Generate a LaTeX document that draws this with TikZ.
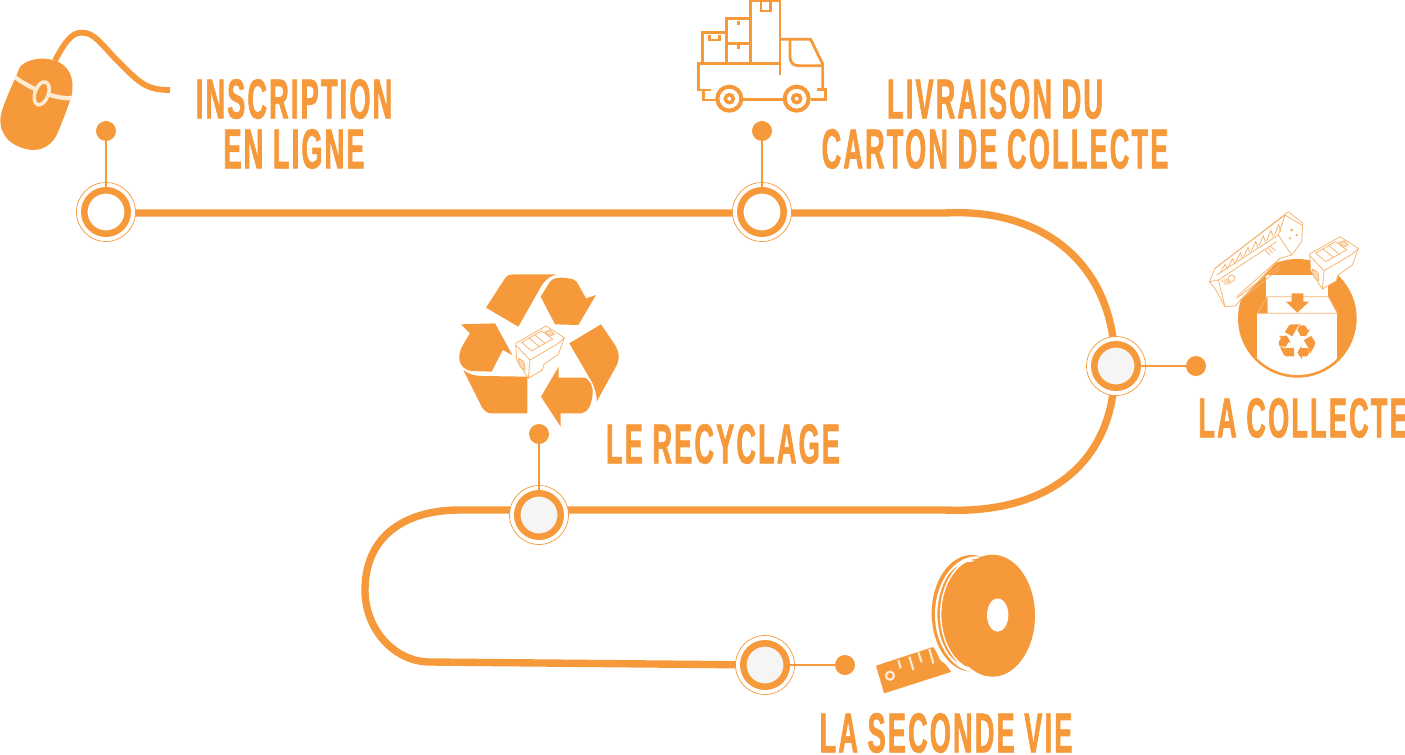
\documentclass[tikz,border=0pt]{standalone}
\usepackage{fontspec}
\setmainfont[FakeStretch=0.48,FakeBold=1.2,LetterSpace=4]{Liberation Sans Bold}
\usepackage{tikz}
\usetikzlibrary{arrows,%
                backgrounds}
\usepackage{tkz-berge}
\definecolor{tubeorange}{HTML}{F6993A}
\definecolor{palecream}{HTML}{FDEBD2}
\definecolor{paleorange}{HTML}{F8B572}
\definecolor{palegray}{HTML}{F5F5F5}
\tikzset{
	steptext/.style={text=tubeorange,align=center,inner sep=0pt,font=\fontsize{32}{28.4}\selectfont},
	tube/.style={draw=tubeorange,line width=4.2pt},
	thinline/.style={draw=tubeorange,line width=1.5pt},
	paleline/.style={draw=paleorange,line width=0.45pt},
	recyclemark/.pic={
		\fill[tubeorange] (108,128) -- (165,40) .. controls (172,30) and (180,28) .. (190,28) -- (320,28) .. controls (295,35) and (280,50) .. (270,70) -- (205,185) -- cycle;
		\fill[tubeorange] (272,95) -- (300,50) .. controls (310,38) and (325,36) .. (355,40) .. controls (370,42) and (375,45) .. (380,50) -- (408,100) -- (438,90) -- (385,180) -- (315,178) -- cycle;
		\fill[tubeorange] (358,235) -- (453,178) -- (495,240) .. controls (510,265) and (510,285) .. (495,310) -- (440,410) .. controls (440,385) and (435,370) .. (425,350) -- cycle;
		\fill[tubeorange] (326,305) -- (326,338) -- (405,338) .. controls (420,345) and (430,365) .. (428,385) .. controls (425,420) and (415,440) .. (395,445) -- (332,445) -- (332,485) -- (273,395) -- cycle;
		\fill[tubeorange] (40,315) .. controls (55,328) and (75,333) .. (100,333) -- (232,335) -- (232,445) -- (125,445) .. controls (110,445) and (100,435) .. (95,425) -- cycle;
		\fill[tubeorange] (33,178) -- (135,175) -- (187,270) -- (158,255) -- (125,320) -- (65,318) .. controls (40,315) and (25,295) .. (28,270) .. controls (30,250) and (45,230) .. (60,205) -- cycle;
	},
	cartridgebox/.pic={
		\draw[paleline,fill=white] (197,235) -- (288,183) -- (343,218) -- (325,268) -- (282,298) -- (277,315) -- (235,340) -- (200,285) -- cycle;
		\draw[paleline] (197,240) -- (240,285) -- (325,235) -- (343,218) (240,285) -- (235,340);
		\draw[paleline] (215,232) -- (275,198) -- (308,222) -- (245,258) -- cycle (238,220) -- (268,245) (255,210) -- (285,235);
		\draw[paleline,fill=tubeorange!35] (205,280) -- (222,290) -- (225,315) -- (210,305) -- cycle;
		\draw[paleline,fill=tubeorange!30] (285,200) -- (300,195) -- (312,208) -- (298,214) -- cycle;
	},
}
\begin{document}
\begin{tikzpicture}[x=0.02cm,y=-0.02cm]
	\useasboundingbox (0,0) rectangle (1405,754);
	\GraphInit[vstyle=Normal]
	% outer rings
	{
		\tikzset{VertexStyle/.style = {draw=tubeorange,fill=white,shape=circle,minimum size=1.18cm,line width=0.4pt,inner sep=0pt}}
		\Vertex[x=106,y=212,NoLabel]{R1}
		\Vertex[x=762,y=212,NoLabel]{R2}
		\Vertex[x=1116,y=366,NoLabel]{R3}
		\Vertex[x=539,y=515,NoLabel]{R4}
		\Vertex[x=765,y=665,NoLabel]{R5}
	}
	{
		\tikzset{VertexStyle/.style = {draw=tubeorange,fill=white,shape=circle,minimum size=0.87cm,line width=3.7pt,inner sep=0pt}}
		\Vertex[x=106,y=212,NoLabel]{S1}
		\Vertex[x=762,y=212,NoLabel]{S2}
	}
	{
		\tikzset{VertexStyle/.style = {draw=tubeorange,fill=palegray,shape=circle,minimum size=0.87cm,line width=3.7pt,inner sep=0pt}}
		\Vertex[x=1116,y=366,NoLabel]{S3}
		\Vertex[x=539,y=515,NoLabel]{S4}
		\Vertex[x=765,y=665,NoLabel]{S5}
	}
	{
		\tikzset{VertexStyle/.style = {fill=tubeorange,shape=circle,minimum size=0.4cm,draw=none,inner sep=0pt}}
		\Vertex[x=106,y=131,NoLabel]{D1}
		\Vertex[x=762,y=131,NoLabel]{D2}
		\Vertex[x=1196,y=366,NoLabel]{D3}
		\Vertex[x=539,y=434,NoLabel]{D4}
		\Vertex[x=845,y=665,NoLabel]{D5}
	}
	\tikzstyle{EdgeStyle}=[thinline]
	\Edge[](D1)(S1)
	\Edge[](D2)(S2)
	\Edge[](D3)(S3)
	\Edge[](D4)(S4)
	\Edge[](D5)(S5)
	% the tube
	\coordinate (T0) at (106,213);
	\coordinate (T1) at (945,213);
	\coordinate (T2) at (945,510);
	\coordinate (T3) at (460,510);
	\coordinate (T4) at (430,662);
	\begin{scope}[on background layer]
		\draw[tube] (T0) -- (T1) .. controls (1040,208) and (1105,260) .. (S3);
		\draw[tube] (S3) .. controls (1105,470) and (1040,514) .. (T2) -- (T3) .. controls (400,510) and (365,540) .. (365,590) .. controls (365,630) and (395,662) .. (T4) -- (S5);
	\end{scope}
	% labels
	\node[steptext] (inscription) at (294,124) {INSCRIPTION\\EN LIGNE};
	\node[steptext] (livraison) at (995,124) {LIVRAISON DU\\CARTON DE COLLECTE};
	\node[steptext] (collecte) at (1303,418) {LA COLLECTE};
	\node[steptext] (recyclage) at (723,444) {LE RECYCLAGE};
	\node[steptext] (seconde) at (946,733) {LA SECONDE VIE};
	% mouse
	\begin{scope}[shift={(0,20)},scale=1/3]
		\draw[tubeorange,line width=3.3pt] (165,122) .. controls (195,65) and (215,38) .. (245,38) .. controls (285,38) and (300,70) .. (360,130) .. controls (420,190) and (440,210) .. (510,210);
		\fill[tubeorange] (60,140) .. controls (85,115) and (130,110) .. (165,122) .. controls (205,135) and (225,170) .. (215,225) .. controls (205,260) and (185,310) .. (170,345) .. controls (150,385) and (110,398) .. (70,385) .. controls (20,370) and (-10,330) .. (5,275) .. controls (15,240) and (40,190) .. (60,140) -- cycle;
		\draw[palecream,line width=2.4pt] (45,172) .. controls (85,200) and (150,235) .. (213,235);
		\draw[palecream,line width=2pt,fill=tubeorange,rotate around={-20:(125,220)}] (125,220) ellipse [x radius=20,y radius=36];
	\end{scope}
	% truck
	\begin{scope}[shift={(680,0)},scale=1/3,tubeorange,line width=1.6pt]
		\draw (68,190) -- (68,98) -- (140,98) (88,105) -- (88,120) -- (118,120) -- (118,105);
		\draw (140,190) -- (140,55) -- (212,55) (140,130) -- (212,130) (175,62) -- (175,74) (175,132) -- (175,146);
		\draw (212,190) -- (212,3) -- (300,3) -- (300,225) (243,5) -- (243,33) -- (272,33) -- (272,5);
		\draw (92,270) -- (55,270) -- (55,190) -- (300,190);
		\draw (70,270) -- (70,300) -- (110,300) (190,298) -- (310,298) (393,298) -- (437,298) -- (437,268) -- (410,268);
		\draw (300,118) -- (392,118) -- (428,192) -- (428,268);
		\draw (330,118) -- (330,170) .. controls (330,188) and (340,197) .. (355,197) -- (428,197);
		\draw[line width=2.3pt] (148,296) circle (36) (350,296) circle (36);
		\draw[line width=2pt] (148,296) circle (12) (350,296) circle (12);
	\end{scope}
	% box and toner
	\begin{scope}[shift={(1190,200)},scale=1/3]
		\fill[tubeorange] (322,355) circle (178);
		\begin{scope}
			\clip (322,355) circle (170);
			\fill[white] (202,340) rectangle (442,540);
		\end{scope}
		\fill[white] (228,225) rectangle (415,292);
		\fill[white] (232,290) -- (415,290) -- (442,340) -- (232,340) -- cycle;
		\fill[tubeorange] (232,295) -- (232,340) -- (206,340) -- cycle;
		\draw[paleline] (202,340) -- (442,340) (202,340) -- (232,290) -- (415,290) -- (442,340);
		\fill[tubeorange] (305,280) -- (340,280) -- (340,305) -- (357,305) -- (322,338) -- (288,305) -- (305,305) -- cycle;
		\draw[paleline,fill=white] (58,245) -- (75,205) -- (295,35) -- (338,70) -- (335,125) -- (305,165) -- (270,175) -- (135,318) -- (105,320) -- (75,265) -- cycle;
		\draw[paleline] (75,205) -- (285,45) (80,225) -- (265,105) (85,240) -- (260,125) (58,245) -- (85,240) -- (105,320) (140,295) -- (270,195) (150,300) -- (270,205);
		\draw[paleline] (265,105) -- (305,165) (285,45) -- (265,105) (285,45) -- (335,75);
		\foreach \i in {0,1,...,7}
			\draw[paleline] ({92+23*\i},{215-15.5*\i}) -- ({105+23*\i},{193-17*\i}) -- ({112+23*\i},{208-16*\i});
		\foreach \i in {0,1,2}
			\draw[paleline] ({95+6*\i},{240-2*\i}) -- ({110+6*\i},{255-2*\i}) ({225+8*\i},{150-6*\i}) -- ({240+8*\i},{165-6*\i});
		\draw[paleline] (125,235) circle (10);
		\draw[paleline] (140,290) -- (270,175);
		\fill[paleorange] (305,90) circle (5) (320,105) circle (4) (300,115) circle (4);
	\end{scope}
	\pic[scale=0.0764] at (1276.5,322.3) {recyclemark};
	\pic[scale=1/3] at (1244,175.7) {cartridgebox};
	% big recycling sign
	\pic[scale=1/3] at (450,265) {recyclemark};
	\pic[scale=1/3] at (450,265) {cartridgebox};
	% spool
	\begin{scope}[shift={(860,545)},scale=1/3]
		\fill[tubeorange] (48,362) -- (222,305) -- (240,345) -- (282,378) -- (72,445) -- cycle;
		\draw[palecream,line width=1.2pt] (115,345) -- (122,370) (148,335) -- (160,375) (175,322) -- (185,352) (208,312) -- (220,355);
		\draw[palecream,line width=1.2pt] (90,392) circle (12);
		\draw[white,line width=3pt] (225,300) -- (282,378);
		\fill[tubeorange] (335,205) ellipse [x radius=120,y radius=175];
		\draw[white,line width=0.8pt] (350,208) ellipse [x radius=122,y radius=172] (342,208) ellipse [x radius=112,y radius=168] (335,208) ellipse [x radius=108,y radius=160] (360,208) ellipse [x radius=118,y radius=170];
		\fill[tubeorange] (397,212) ellipse [x radius=128,y radius=183];
		\fill[white] (413,210) ellipse [x radius=32,y radius=50];
	\end{scope}
\end{tikzpicture}
\end{document}
